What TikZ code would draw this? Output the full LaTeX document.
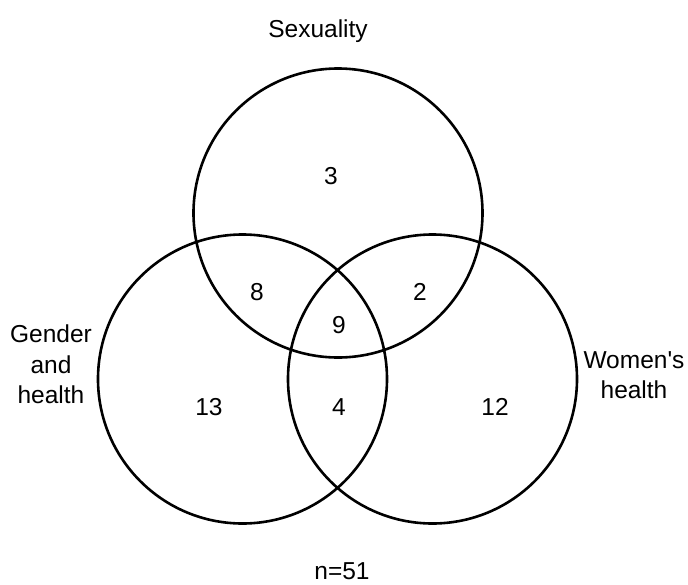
\documentclass[tikz,border=0pt]{standalone}
\usepackage{fontspec}
\setmainfont{Liberation Sans}
\begin{document}
\begin{tikzpicture}[x=1pt,y=-1pt,
  venn/.style={draw=black,line width=2.6pt},
  lbl/.style={inner sep=0pt,font=\fontsize{24.5}{30}\selectfont},
  num/.style={inner sep=0pt,font=\fontsize{24.5}{30}\selectfont}]
\useasboundingbox (0,0) rectangle (688,584);
\coordinate (cs) at (338,213);
\coordinate (cg) at (242.5,379);
\coordinate (cw) at (432.5,379);
\draw[venn] (cs) circle[radius=144.5];
\draw[venn] (cg) circle[radius=144.5];
\draw[venn] (cw) circle[radius=144.5];
\node[lbl,anchor=base] (sex) at (318,37) {Sexuality};
\node[lbl,anchor=base] (g1) at (51,342) {Gender};
\node[lbl,anchor=base] (g2) at (51,373) {and};
\node[lbl,anchor=base] (g3) at (51,403) {health};
\node[lbl,anchor=base] (w1) at (634,368) {Women\textquotesingle s};
\node[lbl,anchor=base] (w2) at (634,398) {health};
\node[lbl,anchor=base] (n) at (342,579) {n=51};
\node[num] (n3) at (331,176) {3};
\node[num] (n8) at (257,292) {8};
\node[num] (n2) at (420,292) {2};
\node[num] (n9) at (339,325) {9};
\node[num] (n13) at (209,407) {13};
\node[num] (n4) at (339,407) {4};
\node[num] (n12) at (495,407) {12};
\end{tikzpicture}
\end{document}
